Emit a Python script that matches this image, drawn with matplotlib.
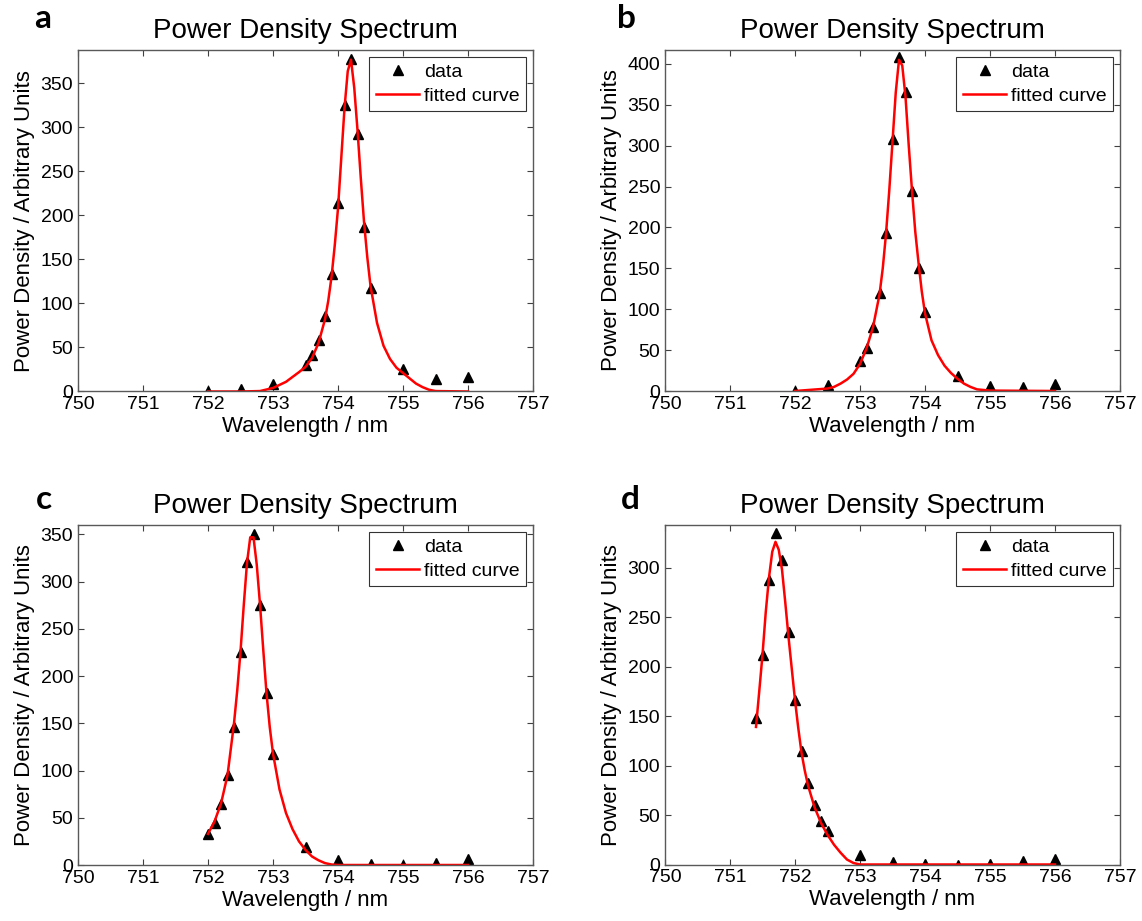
import numpy as np
import matplotlib.pyplot as plt

plt.rcParams['font.family'] = ['Liberation Sans', 'DejaVu Sans']

# panel a: measured points and fitted curve
a_wl = [752.0, 752.5, 753.0, 753.5, 753.6, 753.7, 753.8, 753.9, 754.0, 754.1,
        754.2, 754.3, 754.4, 754.5, 755.0, 755.5, 756.0]
a_pd = [0, 3, 8, 30, 41, 58, 86, 134, 214, 325, 378, 292, 187, 118, 25, 14, 16]
a_fit_wl = [752.0, 752.5, 752.8, 753.0, 753.2, 753.4, 753.5, 753.6, 753.7, 753.8,
            753.85, 753.9, 753.95, 754.0, 754.05, 754.1, 754.15, 754.2, 754.25, 754.3,
            754.35, 754.4, 754.45, 754.5, 754.6, 754.7, 754.8, 754.9, 755.0, 755.1,
            755.2, 755.3, 755.4, 755.5, 756.0]
a_fit_pd = [0, 0, 0.5, 4, 11, 22, 28, 38, 55, 82,
            103, 130, 166, 208, 265, 322, 364, 377, 345, 297,
            243, 193, 153, 120, 78, 52, 37, 27, 21, 15,
            9, 5, 2, 0.5, 0]

# panel b
b_wl = [752.0, 752.5, 753.0, 753.1, 753.2, 753.3, 753.4, 753.5, 753.6, 753.7,
        753.8, 753.9, 754.0, 754.5, 755.0, 755.5, 756.0]
b_pd = [0, 7, 37, 53, 78, 120, 193, 308, 408, 366, 244, 151, 97, 18, 6, 5, 8]
b_fit_wl = [752.0, 752.5, 752.6, 752.7, 752.8, 752.9, 753.0, 753.1, 753.2, 753.3,
            753.35, 753.4, 753.45, 753.5, 753.55, 753.6, 753.65, 753.7, 753.75, 753.8,
            753.85, 753.9, 753.95, 754.0, 754.1, 754.2, 754.3, 754.4, 754.5, 754.6,
            754.7, 754.8, 755.0, 756.0]
b_fit_pd = [0, 3, 5, 9, 14, 21, 33, 52, 78, 118,
            150, 192, 245, 305, 365, 405, 398, 360, 300, 245,
            195, 157, 122, 95, 62, 44, 31, 22, 15, 9,
            5, 2, 0.5, 0]

# panel c
c_wl = [752.0, 752.1, 752.2, 752.3, 752.4, 752.5, 752.6, 752.7, 752.8, 752.9,
        753.0, 753.5, 754.0, 754.5, 755.0, 755.5, 756.0]
c_pd = [33, 45, 65, 95, 146, 226, 321, 351, 275, 182, 118, 19, 5, 1, 0, 2.5, 6]
c_fit_wl = [752.0, 752.1, 752.2, 752.3, 752.4, 752.45, 752.5, 752.55, 752.6, 752.65,
            752.7, 752.75, 752.8, 752.85, 752.9, 752.95, 753.0, 753.1, 753.2, 753.3,
            753.4, 753.5, 753.6, 753.7, 753.8, 753.9, 754.0, 756.0]
c_fit_pd = [33, 46, 65, 95, 150, 185, 226, 275, 320, 347,
            347, 318, 276, 228, 182, 146, 118, 80, 55, 38,
            25, 16, 9, 5, 2, 0.5, 0, 0]

# panel d
d_wl = [751.4, 751.5, 751.6, 751.7, 751.8, 751.9, 752.0, 752.1, 752.2, 752.3,
        752.4, 752.5, 753.0, 753.5, 754.0, 754.5, 755.0, 755.5, 756.0]
d_pd = [148, 212, 287, 335, 308, 235, 166, 115, 82, 60, 44, 34, 9.5, 3, 0.5, 0, 0.5, 3.5, 6]
d_fit_wl = [751.4, 751.45, 751.5, 751.55, 751.6, 751.65, 751.7, 751.75, 751.8, 751.85,
            751.9, 751.95, 752.0, 752.05, 752.1, 752.15, 752.2, 752.3, 752.4, 752.5,
            752.6, 752.7, 752.8, 752.9, 753.0, 756.0]
d_fit_pd = [139, 175, 212, 255, 290, 316, 326, 318, 298, 265,
            230, 198, 166, 138, 113, 95, 80, 58, 42, 30,
            20, 12, 5, 1.5, 0, 0]

panels = [
    ('a', a_wl, a_pd, a_fit_wl, a_fit_pd, 388),
    ('b', b_wl, b_pd, b_fit_wl, b_fit_pd, 417),
    ('c', c_wl, c_pd, c_fit_wl, c_fit_pd, 360),
    ('d', d_wl, d_pd, d_fit_wl, d_fit_pd, 343),
]

W, H = 1142, 921
fig = plt.figure(figsize=(W / 100, H / 100), dpi=100)

# axes boxes in pixels: left, top, right, bottom
boxes = [(78, 50, 533, 391.5), (665, 50, 1120, 391), (78, 525, 533, 865), (665, 525, 1120, 864.5)]
letter_pos = [(43, 19), (626, 19), (44, 499), (630, 499)]

for (letter, wl, pdens, fwl, fpd, ytop), box, lp in zip(panels, boxes, letter_pos):
    l, t, r, b = box
    ax = fig.add_axes([l / W, 1 - b / H, (r - l) / W, (b - t) / H])
    ax.plot(wl, pdens, '^', color='black', markersize=7, label='data')
    ax.plot(fwl, fpd, '-', color='red', linewidth=1.8, label='fitted curve')
    ax.set_xlim(750, 757)
    ax.set_ylim(0, ytop)
    ax.set_xticks(np.arange(750, 758, 1))
    ax.set_yticks(np.arange(0, ytop, 50))
    ax.tick_params(direction='in', top=True, right=True, length=4, width=0.8,
                   labelsize=14, colors='0.25', labelcolor='black')
    for s in ax.spines.values():
        s.set_color('0.35')
        s.set_linewidth(1.0)
    ax.set_xlabel('Wavelength / nm', fontsize=16, labelpad=2)
    ax.set_ylabel('Power Density / Arbitrary Units', fontsize=16, labelpad=4)
    ax.set_title('Power Density Spectrum', fontsize=20, pad=9)
    leg = ax.legend(loc='upper right', fontsize=14, frameon=True, fancybox=False,
                    borderaxespad=0.35, handlelength=2.2, handletextpad=0.25,
                    labelspacing=0.3, borderpad=0.35)
    leg.get_frame().set_edgecolor('black')
    leg.get_frame().set_linewidth(0.8)
    fig.text(lp[0] / W, 1 - lp[1] / H, letter, fontsize=24, fontweight='bold',
             family=['Lato', 'DejaVu Sans'], ha='center', va='center')

fig.savefig('out.png', dpi=100)
